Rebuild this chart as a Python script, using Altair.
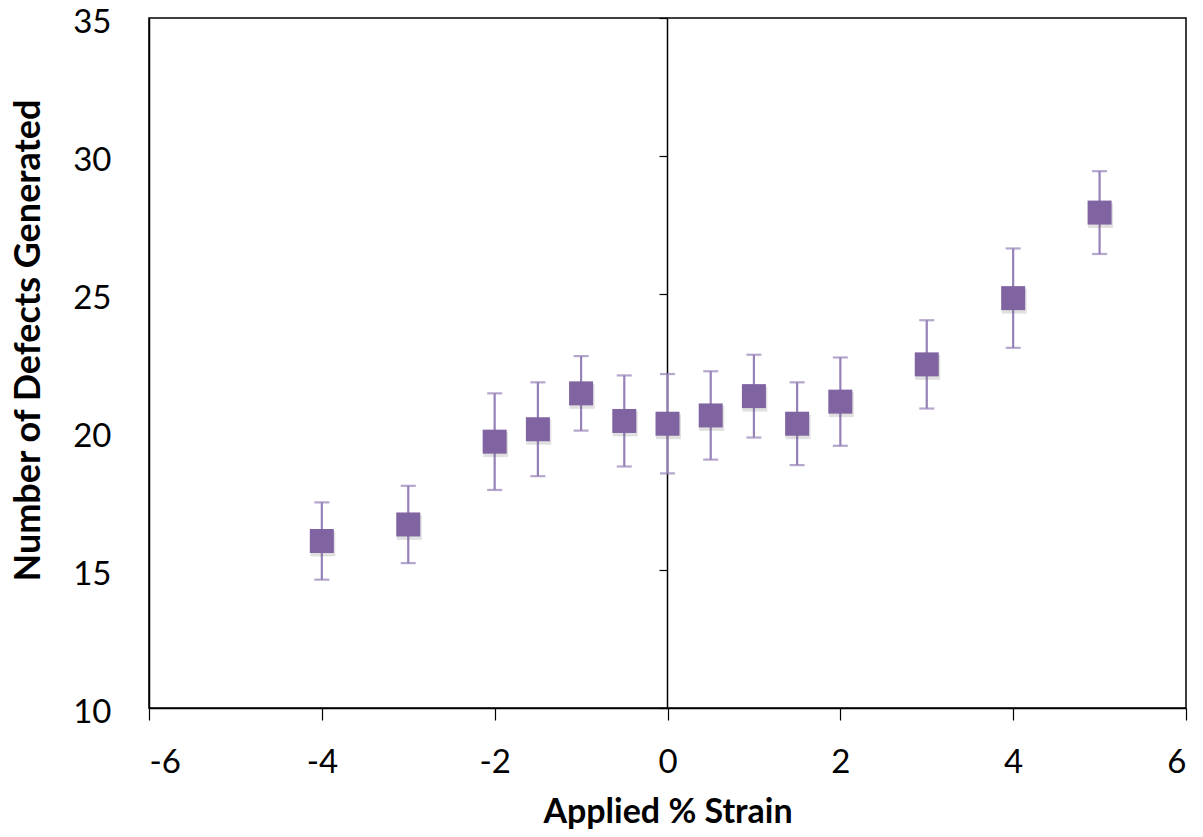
import altair as alt
import pandas as pd

strain = [-4, -3, -2, -1.5, -1, -0.5, 0, 0.5, 1, 1.5, 2, 3, 4, 5]
defects = [16.05, 16.65, 19.65, 20.1, 21.4, 20.4, 20.3, 20.6, 21.3, 20.3, 21.1, 22.45, 24.85, 27.95]
errors = [1.4, 1.4, 1.75, 1.7, 1.35, 1.65, 1.8, 1.6, 1.5, 1.5, 1.6, 1.6, 1.8, 1.5]

df = pd.DataFrame({"x": strain, "y": defects, "e": errors})
df["lo"] = df["y"] - df["e"]
df["hi"] = df["y"] + df["e"]

FONT = "Lato"
PURPLE = "#8064A2"
ERRC = "#9580B8"

xs = alt.Scale(domain=[-6, 6], nice=False, zero=False)
ys = alt.Scale(domain=[10, 35], nice=False, zero=False)

xaxis = alt.Axis(values=[-6, -4, -2, 0, 2, 4, 6], title="Applied % Strain", grid=False,
                 labelExpr="toString(datum.value)",
                 tickSize=12, tickColor="black", domainColor="black", domainWidth=1.5,
                 tickWidth=1.2, labelFontSize=33, labelFont=FONT, labelColor="black",
                 labelPadding=26, titleFont=FONT, titleFontSize=34, titleFontWeight="bold",
                 titleColor="black", titlePadding=16)
yaxis = alt.Axis(values=[10, 15, 20, 25, 30, 35], title="Number of Defects Generated", grid=False,
                 labelExpr="toString(datum.value)",
                 ticks=False, tickSize=0, domainColor="black", domainWidth=1.5,
                 labelFontSize=33, labelFont=FONT, labelColor="black", labelPadding=38,
                 labelOffset=4,
                 titleFont=FONT, titleFontSize=36, titleFontWeight="bold", titleColor="black",
                 titlePadding=25, titleY=322)
yaxis0 = alt.Axis(values=[10, 15, 20, 25, 30, 35], title=None, grid=False, labels=False,
                  ticks=True, tickSize=8, tickColor="black", tickWidth=1.2,
                  domain=True, domainColor="black", domainWidth=1.5, orient="left", offset=-518)

base = alt.Chart(df)

bars = base.mark_rule(color=ERRC, strokeWidth=2.2).encode(
    x=alt.X("x:Q", scale=xs, axis=xaxis),
    y=alt.Y("lo:Q", scale=ys, axis=yaxis),
    y2="hi:Q",
)
zero_axis = base.mark_point(opacity=0).encode(
    x=alt.X("x:Q", scale=xs), y=alt.Y("y:Q", scale=ys, axis=yaxis0))
caps_hi = base.mark_tick(color=ERRC, thickness=2.2, size=15, orient="horizontal").encode(
    x=alt.X("x:Q", scale=xs), y=alt.Y("hi:Q", scale=ys, axis=None))
caps_lo = base.mark_tick(color=ERRC, thickness=2.2, size=15, orient="horizontal").encode(
    x=alt.X("x:Q", scale=xs), y=alt.Y("lo:Q", scale=ys, axis=None))
shadow = base.mark_square(color="#666666", opacity=0.2, size=620, xOffset=1, yOffset=3).encode(
    x=alt.X("x:Q", scale=xs), y=alt.Y("y:Q", scale=ys, axis=None))
pts = base.mark_square(color=PURPLE, opacity=1, size=576, cornerRadius=2).encode(
    x=alt.X("x:Q", scale=xs), y=alt.Y("y:Q", scale=ys, axis=None))

chart = alt.layer(bars, zero_axis, caps_hi, caps_lo, shadow, pts).resolve_axis(y="independent").properties(
    width=1037, height=690,
    autosize=alt.AutoSizeParams(type="none"),
    padding={"left": 141, "top": 10, "right": 9, "bottom": 121},
    background="white",
).configure_view(stroke="black", strokeWidth=1.5)

chart.save("out.html", embed_options={"renderer": "svg", "actions": False})
